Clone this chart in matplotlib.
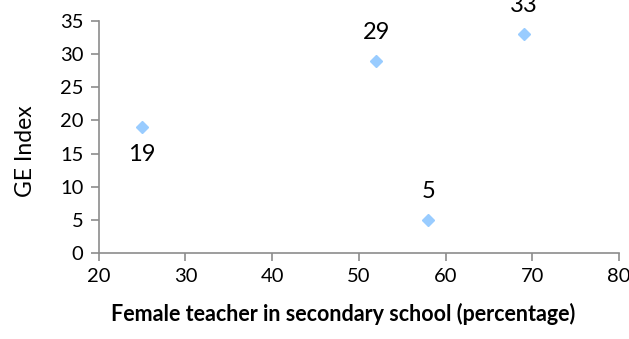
import matplotlib
matplotlib.use("Agg")
import matplotlib.pyplot as plt

# Female teacher share (%) vs GE index
female_teacher_pct = [25, 52, 58, 69]
ge_index = [19, 29, 5, 33]
label_above = [False, True, True, True]

x_ticks = [20, 30, 40, 50, 60, 70, 80]
y_ticks = [0, 5, 10, 15, 20, 25, 30, 35]

plt.rcParams["font.family"] = ["Lato", "DejaVu Sans"]

fig = plt.figure(figsize=(6.29, 3.39), dpi=100, facecolor="white")
ax = fig.add_axes([0.157, 0.254, 0.827, 0.684])

ax.plot(female_teacher_pct, ge_index, linestyle="none", marker="D",
        markersize=6.5, color="#99CCFF", clip_on=False, zorder=3)

for x, y, above in zip(female_teacher_pct, ge_index, label_above):
    dy = 20.5 if above else -20
    ax.annotate(str(y), (x, y), xytext=(0, dy), textcoords="offset points",
                ha="center", va="center", fontsize=17, color="black",
                annotation_clip=False)

ax.set_xlim(20, 80)
ax.set_ylim(0, 35)
ax.set_xticks(x_ticks)
ax.set_yticks(y_ticks)

for side in ("top", "right"):
    ax.spines[side].set_visible(False)
for side in ("left", "bottom"):
    ax.spines[side].set_color("#8c8c8c")
    ax.spines[side].set_linewidth(1.2)

ax.tick_params(axis="both", direction="out", length=6, width=1.2,
               color="#8c8c8c", labelsize=14.5, labelcolor="black", pad=5)

# axis titles sit a little off the axes centre
ax.set_ylabel("GE Index", fontsize=16.5, labelpad=17, y=0.44)
ax.set_xlabel("Female teacher in secondary school (percentage)",
              fontsize=15.5, fontweight="bold", labelpad=13, x=0.469)

fig.savefig("out.png", dpi=100, facecolor="white")
